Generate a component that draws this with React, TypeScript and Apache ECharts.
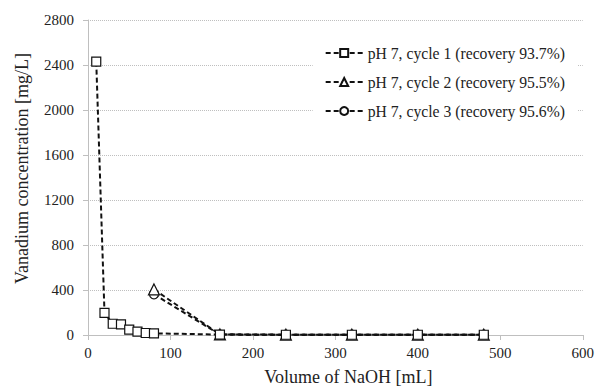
import React, { useEffect, useRef } from "react";
import * as echarts from "echarts";

const cycle1X = [10, 20, 30, 40, 50, 60, 70, 80, 160, 240, 320, 400, 480];
const cycle1Y = [2430, 196, 100, 95, 48, 30, 18, 15, 4, 2, 2, 2, 2];
const cycle2X = [80, 160, 240, 320, 400, 480];
const cycle2Y = [405, 5, 3, 3, 3, 3];
const cycle3X = [80, 160, 240, 320, 400, 480];
const cycle3Y = [362, 4, 2, 2, 2, 2];
const seriesNames = [
  "pH 7, cycle 1 (recovery 93.7%)",
  "pH 7, cycle 2 (recovery 95.5%)",
  "pH 7, cycle 3 (recovery 95.6%)",
];
const symbols = ["rect", "triangle", "circle"];

const font = "Liberation Serif";

export default function App() {
  const ref = useRef<HTMLDivElement>(null);
  useEffect(() => {
    if (!ref.current) return;
    const chart = echarts.init(ref.current, undefined, { renderer: "svg" });
    const xs = [cycle1X, cycle2X, cycle3X];
    const ys = [cycle1Y, cycle2Y, cycle3Y];
    chart.setOption({
      animation: false,
      textStyle: { fontFamily: font },
      grid: { left: 88, right: 14, top: 20, bottom: 53 },
      legend: {
        right: 20,
        top: 35,
        orient: "vertical",
        backgroundColor: "#fff",
        padding: [10, 12],
        itemWidth: 37,
        itemHeight: 10,
        itemGap: 13,
        textStyle: { fontFamily: font, fontSize: 15.7, color: "#222" },
        data: seriesNames,
      },
      xAxis: {
        type: "value",
        min: 0,
        max: 600,
        interval: 100,
        name: "Volume of NaOH [mL]",
        nameLocation: "middle",
        nameGap: 33,
        nameTextStyle: { fontFamily: font, fontSize: 18, color: "#222", padding: [0, 0, 0, 26] },
        axisLine: { lineStyle: { color: "#bfbfbf" } },
        axisTick: { show: true, lineStyle: { color: "#bfbfbf" }, length: 5 },
        axisLabel: { fontFamily: font, fontSize: 15, color: "#222", margin: 10 },
        splitLine: { show: false },
      },
      yAxis: {
        type: "value",
        min: 0,
        max: 2800,
        interval: 400,
        name: "Vanadium concentration [mg/L]",
        nameLocation: "middle",
        nameGap: 57,
        nameTextStyle: { fontFamily: font, fontSize: 18, color: "#222", padding: [0, 0, 0, 18] },
        axisLine: { show: true, lineStyle: { color: "#bfbfbf" } },
        axisTick: { show: true, lineStyle: { color: "#bfbfbf" }, length: 5 },
        axisLabel: {
          fontFamily: font,
          fontSize: 15,
          color: "#222",
          margin: 14,
          formatter: (v: number) => String(v),
        },
        splitLine: { show: true, lineStyle: { color: "#bfbfbf", type: [1, 1], width: 1 } },
      },
      series: seriesNames.map((name, i) => ({
        name,
        type: "line",
        data: xs[i].map((x, j) => [x, ys[i][j]]),
        symbol: symbols[i],
        symbolSize: i === 1 ? 11 : 9,
        showSymbol: true,
        lineStyle: { color: "#111", width: 2, type: [5, 3] },
        itemStyle: { color: "#fff", borderColor: "#111", borderWidth: 1.2 },
        z: 3 - i,
      })),
    });
    return () => chart.dispose();
  }, []);
  return <div ref={ref} style={{ width: 597, height: 391, position: "absolute", left: 0, top: 0 }} />;
}
